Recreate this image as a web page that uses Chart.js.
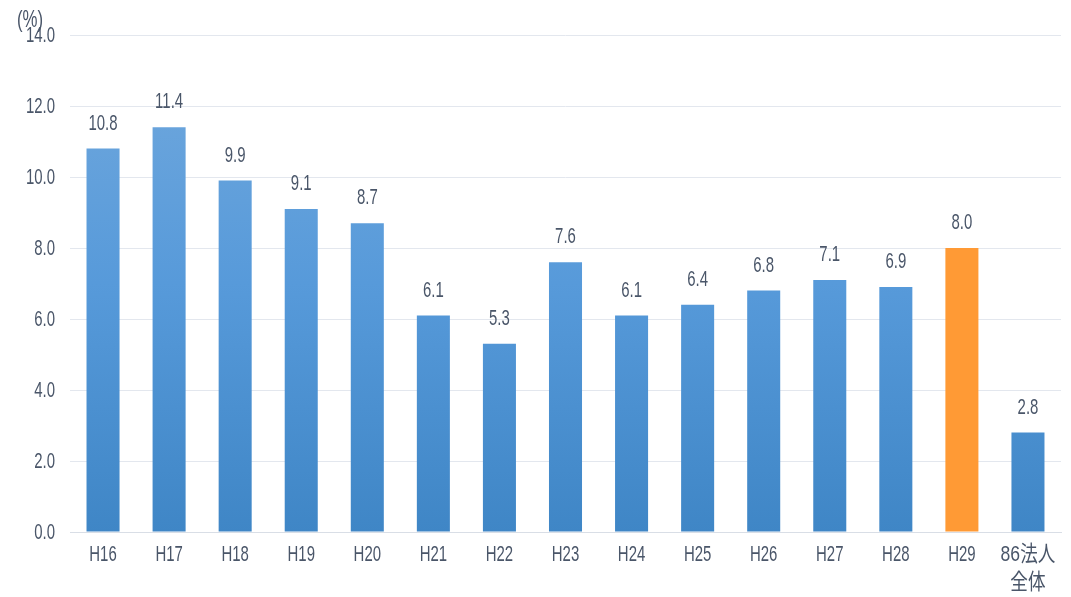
<!DOCTYPE html>
<html><head><meta charset="utf-8">
<script src="https://cdn.jsdelivr.net/npm/chart.js@4/dist/chart.umd.min.js"></script>
<style>html,body{margin:0;padding:0;background:#fff}#wrap{position:relative;width:1071px;height:597px}</style>
</head><body><div id="wrap"><canvas id="c" width="1071" height="597"></canvas></div>
<script>
const categories = ["H16","H17","H18","H19","H20","H21","H22","H23","H24","H25","H26","H27","H28","H29",["86法人","全体"]];
const values = [10.8,11.4,9.9,9.1,8.7,6.1,5.3,7.6,6.1,6.4,6.8,7.1,6.9,8.0,2.8];
const highlightIndex = 13;
const yTicks = [0,2,4,6,8,10,12,14];
const unitLabel = "(%)";

const FONT = "'Liberation Sans','Noto Sans CJK JP',sans-serif";
const TXT = "#4a5669";
const SX = 0.68;

function barColor(ctx){
  if (ctx.dataIndex === highlightIndex) return "#ff9a35";
  const ch = ctx.chart, a = ch.chartArea;
  if (!a) return "#5b9bd5";
  const el = ctx.element;
  const top = el && el.y != null ? el.y : a.top;
  const g = ch.ctx.createLinearGradient(0, top, 0, a.bottom);
  g.addColorStop(0, "#72a9dd");
  g.addColorStop(0.5, "#579ada");
  g.addColorStop(1, "#3f86c6");
  return g;
}

function drawText(c, txt, x, y, align, size, sx){
  c.save();
  c.translate(x, y);
  c.scale(sx || SX, 1);
  c.font = size + "px " + FONT;
  c.textAlign = align;
  c.textBaseline = "middle";
  c.fillText(txt, 0, 0);
  c.restore();
}

const textPlugin = {
  id: "texts",
  afterDraw(chart){
    const c = chart.ctx, meta = chart.getDatasetMeta(0);
    const xs = chart.scales.x, ys = chart.scales.y;
    c.save();
    c.fillStyle = TXT;
    meta.data.forEach((b,i)=>{
      drawText(c, values[i].toFixed(1), b.x, b.y - 25, "center", 22);
    });
    yTicks.forEach(v=>{
      drawText(c, v.toFixed(1), 55, ys.getPixelForValue(v) + 1, "right", 22);
    });
    categories.forEach((lab,i)=>{
      const x = xs.getPixelForValue(i);
      const lines = Array.isArray(lab) ? lab : [lab];
      lines.forEach((ln,j)=>{
        const cjk = /[\u3000-\u9fff]/.test(ln);
        drawText(c, ln, x, xs.bottom - 65 + 23 + j*28, "center", 22, cjk ? 0.8 : SX);
      });
    });
    drawText(c, unitLabel, 17, 20, "left", 24, 0.7);
    c.restore();
  }
};

new Chart(document.getElementById("c"), {
  type: "bar",
  data: { labels: categories, datasets: [{ data: values, backgroundColor: barColor, borderWidth: 0, categoryPercentage: 1, barPercentage: 0.5 }] },
  options: {
    responsive: false, animation: false,
    layout: { padding: { top: 35, right: 10, left: 0, bottom: 0 } },
    plugins: { legend: { display: false }, tooltip: { enabled: false } },
    scales: {
      x: {
        grid: { display: false, drawTicks: false },
        border: { display: true, color: "#d9dee6", width: 1 },
        ticks: { display: false },
        afterFit(s){ s.height = 65; }
      },
      y: {
        min: 0, max: 14,
        afterBuildTicks(s){ s.ticks = yTicks.map(v=>({value:v})); },
        grid: { color: "#e3e7ee", drawTicks: false, lineWidth: 1 },
        border: { display: false },
        ticks: { display: false },
        afterFit(s){ s.width = 70; }
      }
    }
  },
  plugins: [textPlugin]
});
</script></body></html>
